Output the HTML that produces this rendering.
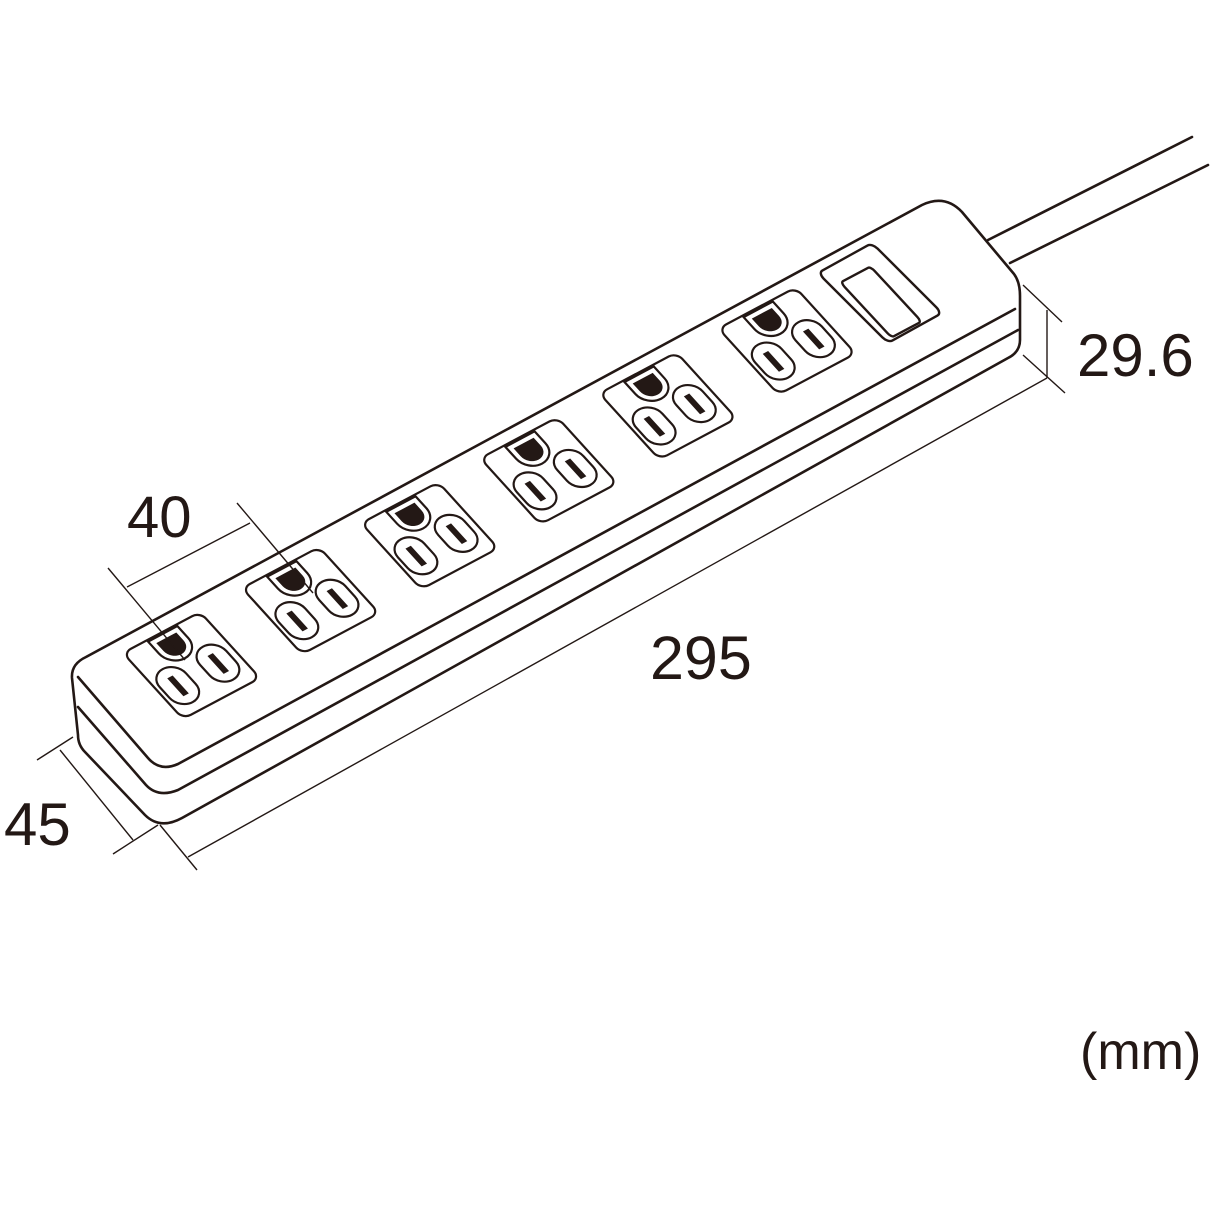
<!DOCTYPE html>
<html><head><meta charset="utf-8"><style>
html,body{margin:0;padding:0;background:#fff;}
svg{display:block;}
text{font-family:"Liberation Sans",sans-serif;fill:#231815;}
</style></head><body>
<svg width="1216" height="1216" viewBox="0 0 1216 1216" xmlns="http://www.w3.org/2000/svg">
<defs>
<g id="outlet">
  <rect x="-50" y="-50" width="100" height="100" rx="10" fill="none" stroke="#231815" stroke-width="2.2" vector-effect="non-scaling-stroke"/>
  <path d="M -19,-48 L 19,-48 L 19,-30 A 19 19 0 0 1 -19,-30 Z" fill="#fff" stroke="#231815" stroke-width="2.2" vector-effect="non-scaling-stroke"/>
  <path d="M -13,-42 L 13,-42 L 13,-30 A 13 13 0 0 1 -13,-30 Z" fill="#231815"/>
  <rect x="-45" y="-12" width="34" height="50" rx="17" fill="none" stroke="#231815" stroke-width="2.2" vector-effect="non-scaling-stroke"/>
  <rect x="-31.5" y="0" width="7" height="27" fill="#231815"/>
  <rect x="8" y="-13" width="34" height="50" rx="17" fill="none" stroke="#231815" stroke-width="2.2" vector-effect="non-scaling-stroke"/>
  <rect x="21.5" y="-1" width="7" height="27" fill="#231815"/>
</g>
</defs>
<g fill="none" stroke="#231815" stroke-width="2.6" stroke-linejoin="round" stroke-linecap="round">
  <path d="M 988,240 L 1192,137"/>
  <path d="M 1010,263 L 1208,165"/>
  <path d="M 78,735 L 72,678 Q 71,664 86,657 L 922,205 Q 945,194 962,212 L 1014,274 Q 1020,282 1020,296 L 1020,340 Q 1020,352 1008,358 L 182,818 Q 160,830 145,815 L 85,752 Q 78,745 78,735 Z" fill="#fff"/>
  <path d="M 78,677 L 148,758 Q 160,772 178,764 L 1015,309"/>
  <path d="M 78,707 L 146,785 Q 158,798 178,790 L 1018,330"/>
</g>
<g>
  <use href="#outlet" transform="matrix(0.77,-0.41,0.60,0.66,191.5,665.5)"/>
  <use href="#outlet" transform="matrix(0.77,-0.41,0.60,0.66,310.6,600.6)"/>
  <use href="#outlet" transform="matrix(0.77,-0.41,0.60,0.66,429.7,535.7)"/>
  <use href="#outlet" transform="matrix(0.77,-0.41,0.60,0.66,548.8,470.8)"/>
  <use href="#outlet" transform="matrix(0.77,-0.41,0.60,0.66,667.9,405.9)"/>
  <use href="#outlet" transform="matrix(0.77,-0.41,0.60,0.66,787,341)"/>
</g>
<rect x="-50" y="-50" width="100" height="100" rx="8" fill="none" stroke="#231815" stroke-width="2.4" vector-effect="non-scaling-stroke" transform="matrix(0.54,-0.30,0.70,0.70,880,293)"/>
<rect x="-50" y="-50" width="100" height="100" rx="8" fill="none" stroke="#231815" stroke-width="2.4" vector-effect="non-scaling-stroke" transform="matrix(0.30,-0.16,0.51,0.55,881,302)"/>
<g fill="none" stroke="#231815" stroke-width="1.4">
  <line x1="108" y1="568" x2="185" y2="660"/>
  <line x1="237" y1="503" x2="313" y2="593"/>
  <line x1="127" y1="587" x2="250" y2="523"/>
  <line x1="37" y1="760" x2="73" y2="737"/>
  <line x1="113" y1="854" x2="158" y2="825"/>
  <line x1="60" y1="750" x2="133" y2="840"/>
  <line x1="160" y1="825" x2="197" y2="870"/>
  <line x1="188" y1="857" x2="1047" y2="378"/>
  <line x1="1023" y1="285" x2="1062" y2="322"/>
  <line x1="1023" y1="355" x2="1065" y2="393"/>
  <line x1="1047" y1="310" x2="1047" y2="378"/>
</g>
<text x="127" y="537" font-size="58">40</text>
<text x="4" y="845" font-size="60">45</text>
<text x="650" y="679" font-size="61">295</text>
<text x="1077" y="376" font-size="60">29.6</text>
<text x="1080" y="1069" font-size="52">(mm)</text>
</svg>
</body></html>
